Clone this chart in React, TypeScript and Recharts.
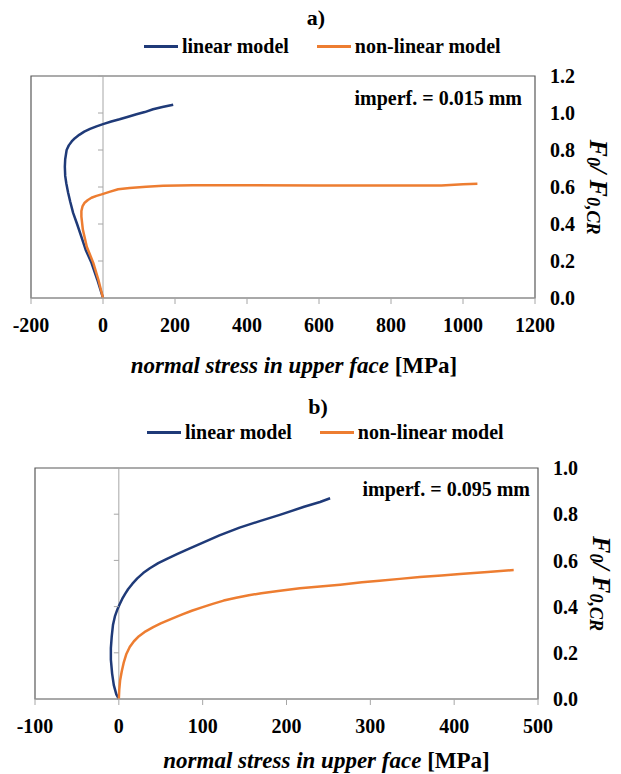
import React from 'react';
import { LineChart, Line, XAxis, YAxis, ReferenceLine, ReferenceArea, ReferenceDot } from 'recharts';

const FONT = '"Liberation Serif", "Times New Roman", serif';

// ---- series names & colours ----
const seriesNames = ['linear model', 'non-linear model'];
const seriesColors = ['#1f3a78', '#ed7d31'];

// ---- panel a) imperf = 0.015 mm ----
const linearA = [
  { x: 0, y: 0 }, { x: -16, y: 0.1 }, { x: -32, y: 0.19 }, { x: -48, y: 0.26 }, { x: -60, y: 0.33 },
  { x: -72, y: 0.4 }, { x: -83, y: 0.46 }, { x: -91, y: 0.52 }, { x: -97, y: 0.57 }, { x: -102, y: 0.62 },
  { x: -105, y: 0.66 }, { x: -106, y: 0.71 }, { x: -105, y: 0.75 }, { x: -101, y: 0.8 }, { x: -95, y: 0.825 },
  { x: -87, y: 0.846 }, { x: -78, y: 0.864 }, { x: -66, y: 0.882 }, { x: -52, y: 0.899 }, { x: -36, y: 0.914 },
  { x: -18, y: 0.928 }, { x: 0, y: 0.94 }, { x: 23, y: 0.954 }, { x: 46, y: 0.966 }, { x: 70, y: 0.98 },
  { x: 93, y: 0.993 }, { x: 116, y: 1.005 }, { x: 139, y: 1.02 }, { x: 165, y: 1.032 }, { x: 195, y: 1.045 },
];
const nonLinearA = [
  { x: 0, y: 0 }, { x: -13, y: 0.1 }, { x: -27, y: 0.19 }, { x: -45, y: 0.277 }, { x: -56, y: 0.37 },
  { x: -60, y: 0.44 }, { x: -60, y: 0.47 }, { x: -57, y: 0.495 }, { x: -51, y: 0.515 }, { x: -42, y: 0.53 },
  { x: -32, y: 0.542 }, { x: -18, y: 0.552 }, { x: -4, y: 0.56 }, { x: 20, y: 0.575 }, { x: 42, y: 0.588 },
  { x: 74, y: 0.595 }, { x: 120, y: 0.602 }, { x: 167, y: 0.607 }, { x: 250, y: 0.61 }, { x: 400, y: 0.609 },
  { x: 600, y: 0.608 }, { x: 800, y: 0.608 }, { x: 940, y: 0.608 }, { x: 1000, y: 0.615 }, { x: 1040, y: 0.617 },
];
const xTicksA = [-200, 0, 200, 400, 600, 800, 1000, 1200];
const yTicksA = [0, 0.2, 0.4, 0.6, 0.8, 1.0, 1.2];

// ---- panel b) imperf = 0.095 mm ----
const linearB = [
  { x: 0, y: 0 }, { x: -3, y: 0.02 }, { x: -6, y: 0.06 }, { x: -8, y: 0.11 }, { x: -9.5, y: 0.17 },
  { x: -9.5, y: 0.22 }, { x: -8.5, y: 0.27 }, { x: -7, y: 0.32 }, { x: -4.5, y: 0.36 }, { x: -1.5, y: 0.39 },
  { x: 1, y: 0.41 }, { x: 4, y: 0.433 }, { x: 7.5, y: 0.455 }, { x: 11, y: 0.475 }, { x: 16, y: 0.498 },
  { x: 22, y: 0.522 }, { x: 29, y: 0.545 }, { x: 37, y: 0.566 }, { x: 47, y: 0.588 }, { x: 58, y: 0.608 },
  { x: 70, y: 0.628 }, { x: 84, y: 0.651 }, { x: 101, y: 0.678 }, { x: 120, y: 0.708 }, { x: 144, y: 0.742 },
  { x: 168, y: 0.77 }, { x: 192, y: 0.797 }, { x: 221, y: 0.832 }, { x: 240, y: 0.853 }, { x: 252, y: 0.869 },
];
const nonLinearB = [
  { x: 0, y: 0 }, { x: 0.5, y: 0.04 }, { x: 1.5, y: 0.08 }, { x: 3.5, y: 0.12 }, { x: 6, y: 0.16 },
  { x: 9, y: 0.195 }, { x: 13, y: 0.225 }, { x: 18, y: 0.25 }, { x: 24, y: 0.272 }, { x: 32, y: 0.293 },
  { x: 41, y: 0.311 }, { x: 50, y: 0.327 }, { x: 62, y: 0.346 }, { x: 75, y: 0.365 }, { x: 87, y: 0.382 },
  { x: 100, y: 0.398 }, { x: 112, y: 0.412 }, { x: 125, y: 0.426 }, { x: 140, y: 0.438 }, { x: 155, y: 0.449 },
  { x: 170, y: 0.458 }, { x: 190, y: 0.468 }, { x: 216, y: 0.479 }, { x: 240, y: 0.487 }, { x: 264, y: 0.495 },
  { x: 290, y: 0.505 }, { x: 311, y: 0.512 }, { x: 335, y: 0.52 }, { x: 359, y: 0.528 }, { x: 385, y: 0.535 },
  { x: 407, y: 0.541 }, { x: 440, y: 0.55 }, { x: 471, y: 0.558 },
];
const xTicksB = [-100, 0, 100, 200, 300, 400, 500];
const yTicksB = [0, 0.2, 0.4, 0.6, 0.8, 1.0];

const panels = [
  {
    title: 'a)', note: 'imperf. = 0.015 mm', top: 0, height: 390,
    margin: { top: 76, left: 31, right: 6, bottom: 12 }, xAxisHeight: 80, titleDy: 67, titleDx: 11,
    series: [linearA, nonLinearA], xTicks: xTicksA, yTicks: yTicksA,
    titleY: 18, titleX: 316, legendY: 46, legendX: 144, noteRight: 99, noteY: 98,
  },
  {
    title: 'b)', note: 'imperf. = 0.095 mm', top: 390, height: 384,
    margin: { top: 78, left: 35, right: 3, bottom: 7 }, xAxisHeight: 68, titleDy: 61, titleDx: 40,
    series: [linearB, nonLinearB], xTicks: xTicksB, yTicks: yTicksB,
    titleY: 407, titleX: 318, legendY: 432, legendX: 147, noteRight: 91, noteY: 489,
  },
];

const tickStyle = { fill: '#000', fontSize: 20, fontWeight: 700, fontFamily: FONT };

const XTitle = (props: any) => {
  const vb = props.viewBox || {};
  return (
    <text x={vb.x + vb.width / 2 + props.dx} y={vb.y + props.dy} textAnchor="middle" dominantBaseline="central"
      fontFamily={FONT} fontSize={23} fontWeight={700} fill="#000">
      <tspan fontStyle="italic">normal stress in upper face </tspan>
      <tspan>[MPa]</tspan>
    </text>
  );
};

const YTitle = (props: any) => {
  const vb = props.viewBox || {};
  const cx = vb.x + 64;
  const cy = vb.y + vb.height / 2;
  return (
    <text x={cx} y={cy} transform={`rotate(90, ${cx}, ${cy})`} textAnchor="middle" dominantBaseline="central"
      fontFamily={FONT} fontSize={26} fontWeight={700} fontStyle="italic" fill="#000">
      <tspan>F</tspan>
      <tspan fontSize={18} dy={6}>0</tspan>
      <tspan dy={-6}>/ F</tspan>
      <tspan fontSize={18} dy={6}>0,CR</tspan>
    </text>
  );
};

const ZeroTick = (props: any) => (
  <line x1={props.cx - 5} y1={props.cy} x2={props.cx} y2={props.cy} stroke="#a6a6a6" strokeWidth={1} />
);

function Panel({ p }: { p: any }) {
  const xMin = p.xTicks[0];
  const xMax = p.xTicks[p.xTicks.length - 1];
  const yMax = p.yTicks[p.yTicks.length - 1];
  return (
    <div style={{ position: 'absolute', left: 0, top: p.top, width: 621, height: p.height }}>
      <LineChart width={621} height={p.height} margin={p.margin}>
        <XAxis dataKey="x" type="number" domain={[xMin, xMax]} ticks={p.xTicks} allowDataOverflow
          height={p.xAxisHeight} stroke="#a6a6a6" tickSize={6} tickMargin={14} tick={tickStyle} interval={0}
          label={<XTitle dx={p.titleDx} dy={p.titleDy} />} />
        <YAxis type="number" orientation="right" domain={[0, yMax]} ticks={p.yTicks} width={80}
          axisLine={false} tickLine={false} tickSize={6} tickMargin={9} tick={{ ...tickStyle, textAnchor: 'start' }}
          tickFormatter={(v: number) => v.toFixed(1)} interval={0} label={<YTitle />} />
        <ReferenceArea x1={xMin} x2={xMax} y1={0} y2={yMax} fill="none" stroke="#595959" strokeWidth={1.2} fillOpacity={0} />
        <ReferenceLine x={0} stroke="#a6a6a6" strokeWidth={1} />
        {p.yTicks.filter((t: number) => t > 0).map((t: number) => (
          <ReferenceDot key={t} x={0} y={t} r={0} shape={<ZeroTick />} />
        ))}
        {p.series.map((d: any, i: number) => (
          <Line key={seriesNames[i]} data={d} dataKey="y" name={seriesNames[i]} type="linear"
            stroke={seriesColors[i]} strokeWidth={2.5} strokeLinejoin="round" dot={false} activeDot={false}
            isAnimationActive={false} />
        ))}
      </LineChart>
    </div>
  );
}

export default function App() {
  return (
    <div style={{ position: 'absolute', left: 0, top: 0, width: 621, height: 774, background: '#fff', fontFamily: FONT }}>
      {panels.map((p) => (
        <React.Fragment key={p.title}>
          <Panel p={p} />
          <div style={{ position: 'absolute', left: p.titleX - 40, width: 80, top: p.titleY - 13, textAlign: 'center',
            fontSize: 22, fontWeight: 700, lineHeight: '26px' }}>{p.title}</div>
          <div style={{ position: 'absolute', left: p.legendX, top: p.legendY - 12, display: 'flex', alignItems: 'center',
            fontSize: 20, fontWeight: 700, lineHeight: '24px', whiteSpace: 'nowrap' }}>
            {seriesNames.map((n, i) => (
              <div key={n} style={{ display: 'flex', alignItems: 'center', marginRight: i === 0 ? 28 : 0 }}>
                <div style={{ width: 34, height: 3, background: seriesColors[i], marginRight: 4 }} />
                <span>{n}</span>
              </div>
            ))}
          </div>
          <div style={{ position: 'absolute', right: p.noteRight, top: p.noteY - 12, fontSize: 20, fontWeight: 700,
            lineHeight: '24px', whiteSpace: 'nowrap' }}>{p.note}</div>
        </React.Fragment>
      ))}
    </div>
  );
}
